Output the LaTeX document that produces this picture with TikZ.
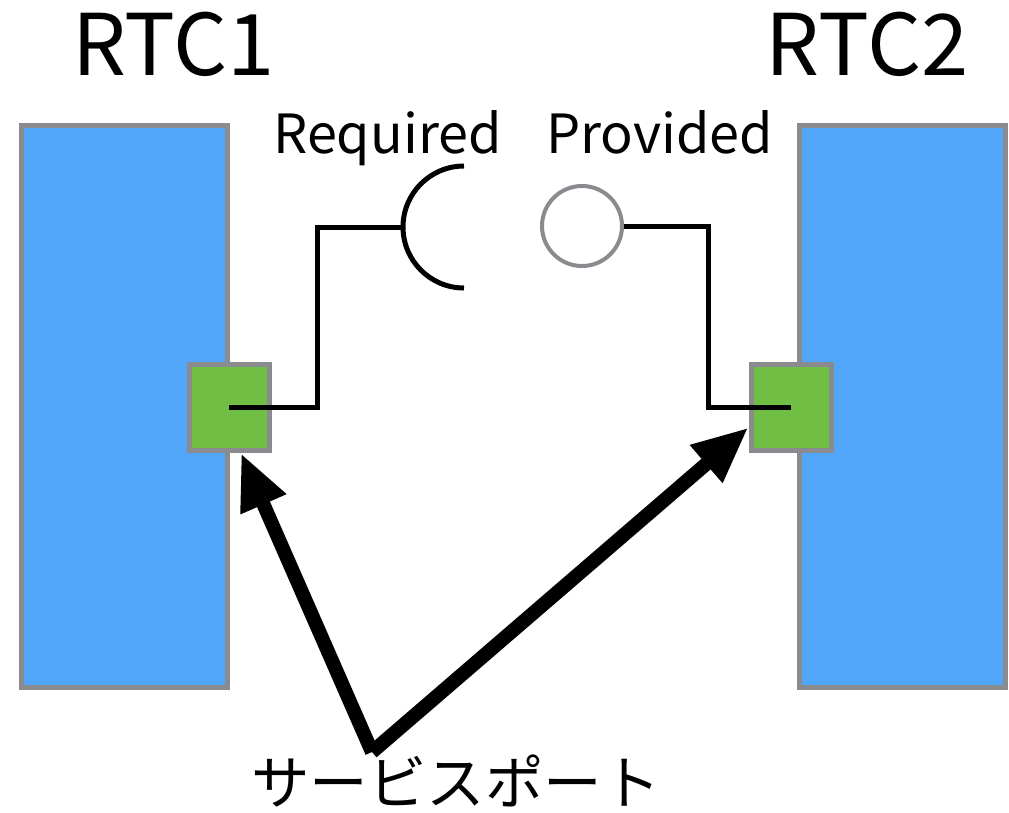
\documentclass[tikz,border=0pt]{standalone}
\usepackage{fontspec}
\setmainfont{Noto Sans CJK JP}
\usepackage{tikz}
\usetikzlibrary{arrows.meta}

\definecolor{rtcblue}{RGB}{82,166,250}
\definecolor{portgreen}{RGB}{112,191,68}
\definecolor{edgegray}{RGB}{137,139,142}

\begin{document}
\begin{tikzpicture}[x=1pt, y=-1pt,
    rtcbox/.style = {draw = edgegray, fill = rtcblue, line width = 5pt,
      minimum width = 206pt, minimum height = 562pt, inner sep = 0pt},
    portbox/.style = {draw = edgegray, fill = portgreen, line width = 5pt,
      minimum width = 80pt, minimum height = 86pt, inner sep = 0pt},
    wire/.style = {line width = 5pt},
    bigarrow/.style = {line width = 14pt, -{Triangle[length = 56pt, width = 46pt]}},
    title/.style = {anchor = base, font = \fontsize{85}{85}\selectfont},
    tag/.style = {anchor = base, font = \fontsize{54}{54}\selectfont}]
      \useasboundingbox (0,0) rectangle (1009,812);
      \node [rtcbox] (rtcA) at (124.5, 406.5) {};
      \node [rtcbox] (rtcB) at (902.5, 406.5) {};
      \node [portbox] (portA) at (229, 407.5) {};
      \node [portbox] (portB) at (791, 407.5) {};
      \node [title] (nameA) at (173.5, 75) {RTC1};
      \node [title] (nameB) at (867, 75) {RTC2};
      \node [tag] (reqtext) at (387.5, 153) {Required};
      \node [tag] (provtext) at (659.5, 153) {Provided};
      \node [anchor = center, font = \fontsize{58.5}{58.5}\selectfont] (svcport) at (456, 781) {サービスポート};
      % required side
      \coordinate (req) at (403, 227);
      \draw [wire] (464, 166) arc [start angle = 90, end angle = 270, radius = 61pt];
      \draw [wire] (portA.center) -- ++(88, 0) |- (req);
      % provided side
      \node [circle, draw = edgegray, fill = white, line width = 4pt,
        minimum size = 80pt, inner sep = 0pt] (prov) at (582, 226) {};
      \draw [wire] (prov.east) -- ++(84, 0) |- (portB.center);
      % arrows to the ports
      \coordinate (fork) at (372, 752);
      \draw [bigarrow] (fork) -- ([xshift = 12pt]portA.south);
      \draw [bigarrow] (fork) -- ([yshift = -20pt]portB.west);
    \end{tikzpicture}
\end{document}
